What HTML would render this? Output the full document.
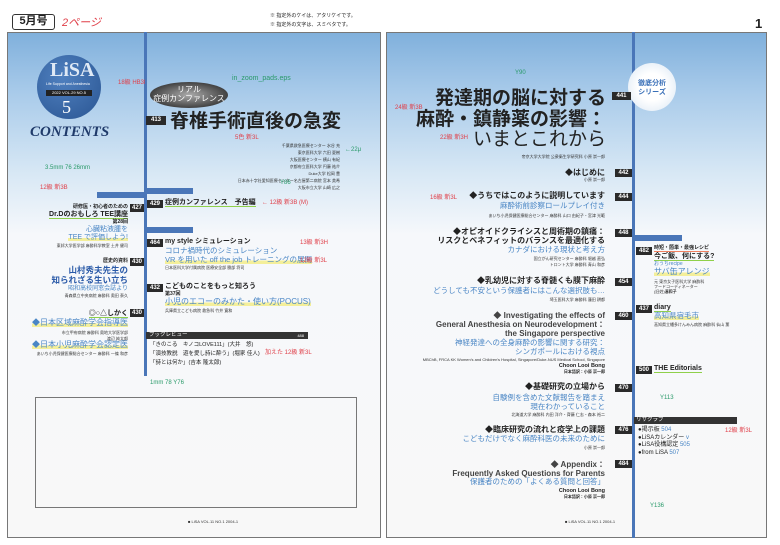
<!DOCTYPE html>
<html><head><meta charset="utf-8">
<style>
*{margin:0;padding:0;box-sizing:border-box}
body{width:780px;height:545px;background:#fff;position:relative;overflow:hidden;font-family:"Liberation Sans","Noto Sans CJK JP",sans-serif;color:#222}
.a{position:absolute;white-space:nowrap;line-height:1}
.r{text-align:right}
.b{font-weight:bold}
.bl{color:#4a86c5}
.n{position:absolute;background:#2a2a2a;color:#fff;font-size:6px;font-weight:bold;height:8px;line-height:8px;text-align:center;width:19px}
.au{font-size:4px;color:#333}
.red{color:#e0404a;font-size:6px}
.grn{color:#2a9a6a;font-size:6px}
.ylw{background:linear-gradient(transparent 55%,#f4ef9a 55%)}
.grl{border-bottom:1.5px solid #8fd04a}
.lc{right:652px}
</style></head><body>
<div class="a" style="left:7px;top:32px;width:374px;height:506px;border:1px solid #777;background:linear-gradient(#80b0dc 0%,#a9cbea 12%,#d8e8f5 28%,#f6f8fb 40%,#f8f8f8 100%)"></div>
<div class="a" style="left:386px;top:32px;width:381px;height:506px;border:1px solid #777;background:linear-gradient(#80b0dc 0%,#a9cbea 12%,#d8e8f5 28%,#f6f8fb 40%,#f8f8f8 100%)"></div>
<div class="a" style="left:144px;top:32px;width:3px;height:344px;background:#4a76b8"></div>
<div class="a" style="left:632px;top:32px;width:3px;height:506px;background:#4a76b8"></div>
<div class="a" style="left:97px;top:192px;width:48px;height:6px;background:#4a76b8"></div>
<div class="a" style="left:147px;top:188px;width:46px;height:6px;background:#4a76b8"></div>
<div class="a" style="left:147px;top:227px;width:46px;height:6px;background:#4a76b8"></div>
<div class="a" style="left:635px;top:235px;width:47px;height:6px;background:#4a76b8"></div>
<div class="a b" style="left:12px;top:14px;width:43px;height:16px;border:1.5px solid #333;border-radius:3px;font-size:11px;line-height:13px;text-align:center">5月号</div>
<div class="a" style="left:62px;top:18px;font-size:11px;color:#e0404a;font-style:italic">2ページ</div>
<div class="a" style="left:270px;top:14px;font-size:5px">※ 指定外のケイは、アタリケイです。</div>
<div class="a" style="left:270px;top:23px;font-size:5px">※ 指定外の文字は、スミベタです。</div>
<div class="a b" style="left:755px;top:17px;font-size:13px">1</div>
<div class="a" style="left:37px;top:55px;width:64px;height:64px;border-radius:50%;background:radial-gradient(circle at 40% 35%,#4f80bf,#2a5592)"></div>
<div class="a b" style="left:50px;top:60px;font-size:20px;color:#dfe9f5;font-family:'Liberation Serif',serif">LiSA</div>
<div class="a" style="left:46px;top:83px;font-size:3.5px;color:#fff">Life Support and Anesthesia</div>
<div class="a" style="left:46px;top:90px;width:46px;height:6px;background:#222;color:#fff;font-size:4px;line-height:6px;text-align:center">2022 VOL.29 NO.5</div>
<div class="a" style="left:62px;top:98px;font-size:18px;color:#fff;font-family:'Liberation Serif',serif">5</div>
<div class="a b" style="left:30px;top:125px;font-size:15px;color:#1f3a6a;font-style:italic;font-family:'Liberation Serif',serif">CONTENTS</div>
<div class="a" style="left:150px;top:82px;width:78px;height:26px;border-radius:50%;background:radial-gradient(#aaa,#333 80%);color:#fff;font-size:8px;text-align:center;line-height:9px;padding-top:3px">リアル<br>症例カンファレンス</div>
<div class="n" style="left:146px;top:116px;width:20px;height:9px">413</div>
<div class="a b" style="left:170px;top:112px;font-size:19px">脊椎手術直後の急変</div>
<div class="a au r" style="right:440px;top:142px;line-height:7px">千葉県救急医療センター 水谷 充<br>東京医科大学 六田 夏樹<br>大阪医療センター 横山 有紀<br>京都府立医科大学 円藤 祐介<br>Duke大学 松岡 豊<br>日本赤十字社愛知医療センター名古屋第二病院 宮本 美希<br>大阪市立大学 山崎 広之</div>
<div class="a grn" style="left:232px;top:75px;font-size:7px">in_zoom_pads.eps</div>
<div class="a grn" style="left:345px;top:147px;">←22μ</div>
<!-- left column right-aligned -->
<div class="a b r lc" style="top:205px;font-size:5px">研修医・初心者のための</div>
<div class="n" style="left:130px;top:204px;width:14px">427</div>
<div class="a b grl r lc" style="top:211px;font-size:7px">Dr.Dのおもしろ TEE講座</div>
<div class="a b r lc" style="top:220px;font-size:5px">第28回</div>
<div class="a bl r lc" style="top:226px;font-size:7px">心臓粘液腫を</div>
<div class="a bl ylw r lc" style="top:234px;font-size:7px">TEE で評価しよう!</div>
<div class="a au r lc" style="top:244px">東邦大学医学部 麻酔科学教室 土井 健司</div>
<div class="a b r lc" style="top:259px;font-size:5px">歴史的資料</div>
<div class="n" style="left:130px;top:258px;width:14px">430</div>
<div class="a b r lc" style="top:266px;font-size:8.5px;color:#2a5aa8">山村秀夫先生の</div>
<div class="a b r lc" style="top:276px;font-size:8.5px;color:#2a5aa8">知られざる生い立ち</div>
<div class="a bl r lc" style="top:286px;font-size:6px">昭和高校同窓会誌より</div>
<div class="a au r lc" style="top:294px">青森県立中央病院 麻酔科 奥田 泰久</div>
<div class="a b grl r lc" style="top:310px;font-size:7px">◎○△しかく</div>
<div class="n" style="left:130px;top:309px;width:14px">430</div>
<div class="a bl ylw r lc" style="top:319px;font-size:8px">◆日本区域麻酔学会指導医</div>
<div class="a au r lc" style="top:330px;line-height:6px">市立甲府病院 麻酔科 奥地大学医学部<br>渡辺 純太郎</div>
<div class="a bl ylw r lc" style="top:341px;font-size:8px">◆日本小児麻酔学会認定医</div>
<div class="a au r lc" style="top:352px">あいち小児保健医療総合センター 麻酔科 一條 和彦</div>
<!-- center column -->
<div class="n" style="left:147px;top:200px;width:16px">429</div>
<div class="a b grl" style="left:165px;top:199px;font-size:7px">症例カンファレンス　予告編</div>
<div class="n" style="left:147px;top:239px;width:16px">464</div>
<div class="a b" style="left:165px;top:238px;font-size:7px">my style シミュレーション</div>
<div class="a bl" style="left:165px;top:247px;font-size:7.5px">コロナ禍時代のシミュレーション</div>
<div class="a bl ylw" style="left:165px;top:256px;font-size:7.5px">VR を用いた off the job トレーニングの展開</div>
<div class="a au" style="left:165px;top:266px">日本医科大学付属病院 医療安全部 勝部 将司</div>
<div class="n" style="left:147px;top:284px;width:16px">432</div>
<div class="a b" style="left:165px;top:283px;font-size:7px">こどものことをもっと知ろう</div>
<div class="a b" style="left:165px;top:292px;font-size:5px">第37回</div>
<div class="a bl ylw" style="left:165px;top:298px;font-size:8px">小児のエコーのみかた・使い方(POCUS)</div>
<div class="a au" style="left:165px;top:309px">兵庫県立こども病院 救急科 竹井 寛和</div>
<div class="a" style="left:146px;top:332px;width:162px;height:7px;background:#333;color:#fff;font-size:5.5px;line-height:7px;padding-left:3px">ブックレビュー<span style="float:right;padding-right:4px;font-size:4px">488</span></div>
<div class="a" style="left:150px;top:343px;font-size:5.5px">「きのこる　キノコLOVE111」(大井　悠)</div>
<div class="a" style="left:150px;top:352px;font-size:5.5px">「演技教説　遊を愛し詩に酔う」(堀家 佳人)</div>
<div class="a" style="left:150px;top:361px;font-size:5.5px">「詩とは何か」(吉本 隆太郎)</div>
<div class="a" style="left:35px;top:397px;width:322px;height:111px;border:1px solid #777"></div>
<div class="a au" style="left:188px;top:520px">■ LiSA VOL.11 NO.1 2004-1</div>
<!-- right page -->
<div class="a" style="left:628px;top:63px;width:48px;height:48px;border-radius:50%;background:radial-gradient(#fff 40%,#e8f0f8 75%,rgba(255,255,255,0))"></div>
<div class="a b r" style="left:630px;top:79px;width:44px;font-size:7px;color:#3a70b8;text-align:center;line-height:9px">徹底分析<br>シリーズ</div>
<div class="a b r" style="right:174px;top:88px;font-size:19px;line-height:21px">発達期の脳に対する<br>麻酔・鎮静薬の影響：</div>
<div class="a r" style="right:174px;top:130px;font-size:19px">いまとこれから</div>
<div class="n" style="left:612px;top:92px">441</div>
<div class="a au r" style="right:175px;top:155px">帝京大学大学院 公衆衛生学研究科 小原 崇一郎</div>
<div class="a b r" style="right:175px;top:169px;font-size:8px">◆はじめに</div><div class="n" style="left:615px;top:169px;width:17px">442</div>
<div class="a au r" style="right:175px;top:178px">小原 崇一郎</div>
<div class="a b r" style="right:175px;top:192px;font-size:8px">◆うちではこのように説明しています</div><div class="n" style="left:615px;top:193px;width:17px">444</div>
<div class="a bl r" style="right:175px;top:202px;font-size:7.5px">麻酔術前診察ロールプレイ付き</div>
<div class="a au r" style="right:175px;top:214px">あいち小児保健医療総合センター 麻酔科 山口 由紀子・宮津 光範</div>
<div class="a b r" style="right:175px;top:228px;font-size:8px">◆オピオイドクライシスと周術期の鎮痛：</div><div class="n" style="left:615px;top:229px;width:17px">448</div>
<div class="a b r" style="right:175px;top:237px;font-size:8px">リスクとベネフィットのバランスを最適化する</div>
<div class="a bl r" style="right:175px;top:246px;font-size:7.5px">カナダにおける現状と考え方</div>
<div class="a au r" style="right:175px;top:256px;line-height:6px">国立がん研究センター 麻酔科 堀越 直弘<br>トロント大学 麻酔科 青山 和彦</div>
<div class="a b r" style="right:175px;top:277px;font-size:8px">◆乳幼児に対する脊髄くも膜下麻酔</div><div class="n" style="left:615px;top:278px;width:17px">454</div>
<div class="a bl r" style="right:175px;top:287px;font-size:7.5px">どうしても不安という保護者にはこんな選択肢も…</div>
<div class="a au r" style="right:175px;top:298px">埼玉医科大学 麻酔科 蓮田 耕都</div>
<div class="a b r" style="right:175px;top:311px;font-size:8px;color:#444;line-height:9px">◆ Investigating the effects of<br>General Anesthesia on Neurodevelopment：<br>the Singapore perspective</div><div class="n" style="left:615px;top:312px;width:17px">460</div>
<div class="a bl r" style="right:175px;top:338px;font-size:7.5px;line-height:9px">神経発達への全身麻酔の影響に関する研究：<br>シンガポールにおける視点</div>
<div class="a au r" style="right:175px;top:358px">MBChB, FRCA KK Women's and Children's Hospital, Singapore/Duke-NUS Medical School, Singapore</div>
<div class="a b r" style="right:175px;top:363px;font-size:5.5px;line-height:6px">Choon Looi Bong<br><span style="font-size:4px">日本語訳：小原 崇一郎</span></div>
<div class="a b r" style="right:175px;top:383px;font-size:8px">◆基礎研究の立場から</div><div class="n" style="left:615px;top:384px;width:17px">470</div>
<div class="a bl r" style="right:175px;top:393px;font-size:7.5px;line-height:9px">自験例を含めた文献報告を踏まえ<br>現在わかっていること</div>
<div class="a au r" style="right:175px;top:413px">北海道大学 麻酔科 内田 洋介・齊藤 仁志・森本 裕二</div>
<div class="a b r" style="right:175px;top:426px;font-size:8px">◆臨床研究の流れと疫学上の課題</div><div class="n" style="left:615px;top:426px;width:17px">476</div>
<div class="a bl r" style="right:175px;top:435px;font-size:7.5px">こどもだけでなく麻酔科医の未来のために</div>
<div class="a au r" style="right:175px;top:446px">小原 崇一郎</div>
<div class="a b r" style="right:175px;top:460px;font-size:8px;color:#444;line-height:9px">◆ Appendix：<br>Frequently Asked Questions for Parents</div><div class="n" style="left:615px;top:460px;width:17px">484</div>
<div class="a bl r" style="right:175px;top:478px;font-size:7.5px">保護者のための「よくある質問と回答」</div>
<div class="a b r" style="right:175px;top:488px;font-size:5.5px;line-height:6px">Choon Looi Bong<br><span style="font-size:4px">日本語訳：小原 崇一郎</span></div>
<div class="a au" style="left:565px;top:520px">■ LiSA VOL.11 NO.1 2004-1</div>
<div class="n" style="left:636px;top:247px;width:16px">482</div>
<div class="a b" style="left:654px;top:246px;font-size:5px;border-bottom:1px solid #f08060">時短・簡単・最強レシピ</div>
<div class="a b grl" style="left:654px;top:253px;font-size:7px">今ご飯、何にする?</div>
<div class="a bl" style="left:654px;top:262px;font-size:5px">おうちrecipe</div>
<div class="a bl ylw" style="left:654px;top:268px;font-size:8px">サバ缶アレンジ</div>
<div class="a au" style="left:654px;top:279px;line-height:5px">元 東京女子医科大学 麻酔科<br>フードコーディネーター<br>(旧姓)<b>湊和子</b></div>
<div class="n" style="left:636px;top:305px;width:16px">437</div>
<div class="a b grl" style="left:654px;top:304px;font-size:7px">diary</div>
<div class="a bl ylw" style="left:654px;top:312px;font-size:7.5px">高知県宿毛市</div>
<div class="a au" style="left:654px;top:323px">高知県立幡多けんみん病院 麻酔科 仙山 薫</div>
<div class="n" style="left:636px;top:366px;width:16px">500</div>
<div class="a b grl" style="left:654px;top:365px;font-size:7px">THE Editorials</div>
<div class="a" style="left:634px;top:417px;width:103px;height:7px;background:#333;color:#fff;font-size:5.5px;line-height:7px;padding-left:2px">リサクラブ</div>
<div class="a" style="left:638px;top:427px;font-size:6px;line-height:7.5px">●掲示板 <span class="bl">504</span><br>●LiSAカレンダー <span class="bl">v</span><br>●LiSA役構認定 <span class="bl">505</span><br>●from LiSA <span class="bl">507</span></div>
<!-- annotations -->
<div class="a red" style="left:118px;top:80px">18級 HB3l</div>
<div class="a red" style="left:235px;top:135px">5色 新3L</div>
<div class="a red" style="left:40px;top:185px">12級 新3B</div>
<div class="a red" style="left:262px;top:200px">← 12級 新3B (M)</div>
<div class="a red" style="left:300px;top:240px">13級 新3H</div>
<div class="a red" style="left:300px;top:258px">12級 新3L</div>
<div class="a red" style="left:265px;top:350px">加えた 12級 新3L</div>
<div class="a red" style="left:395px;top:105px">24級 新3B</div>
<div class="a red" style="left:440px;top:135px">22級 新3H</div>
<div class="a red" style="left:430px;top:195px">16級 新3L</div>
<div class="a red" style="left:725px;top:428px">12級 新3L</div>
<div class="a grn" style="left:45px;top:165px">3.5mm 76 26mm</div>
<div class="a grn" style="left:515px;top:70px">Y90</div>
<div class="a grn" style="left:280px;top:180px">Y86</div>
<div class="a grn" style="left:660px;top:395px">Y113</div>
<div class="a grn" style="left:150px;top:380px">1mm 78 Y76</div>
<div class="a grn" style="left:650px;top:503px">Y136</div>
</body></html>
